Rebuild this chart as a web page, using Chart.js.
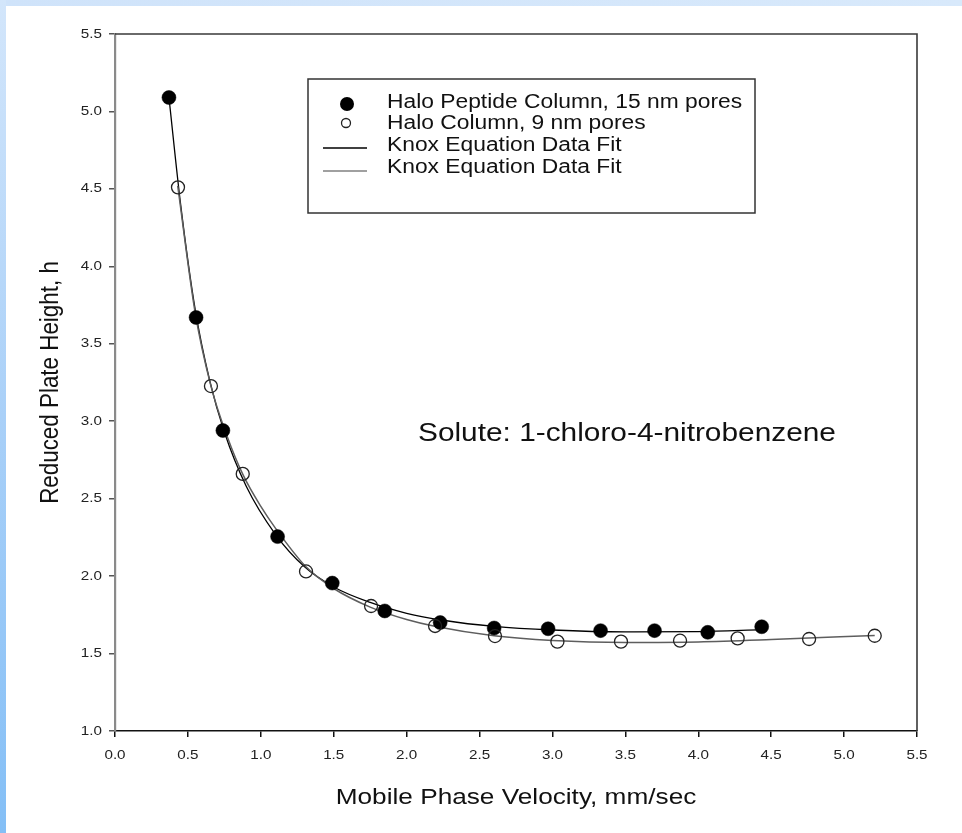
<!DOCTYPE html>
<html>
<head>
<meta charset="utf-8">
<script src="https://cdn.jsdelivr.net/npm/chart.js@4"></script>
<style>
  html, body { margin: 0; padding: 0; background: #ffffff; }
  #wrap { position: relative; width: 962px; height: 833px; overflow: hidden; background: #ffffff; }
  #stripTop { position: absolute; left: 0; top: 0; width: 962px; height: 6px; background: linear-gradient(to right, #cfe3fa, #d8e9fb); }
  #stripLeft { position: absolute; left: 0; top: 0; width: 6px; height: 833px; background: linear-gradient(to bottom, #d3e6fb, #a9d0f8 50%, #84bff6); }
  canvas { position: absolute; left: 0; top: 0; }
</style>
</head>
<body>
<div id="wrap">
  <div id="stripTop"></div>
  <div id="stripLeft"></div>
  <canvas id="c" width="962" height="833"></canvas>
</div>
<script>
// ---- Data ----
const velPeptide = [0.37, 0.556, 0.74, 1.115, 1.49, 1.85, 2.23, 2.60, 2.97, 3.33, 3.70, 4.065, 4.435];
const hPeptide   = [5.09, 3.67, 2.94, 2.255, 1.955, 1.775, 1.70, 1.665, 1.66, 1.648, 1.648, 1.637, 1.673];

const velHalo = [0.432, 0.658, 0.876, 1.31, 1.756, 2.195, 2.606, 3.034, 3.47, 3.875, 4.27, 4.76, 5.21];
const hHalo   = [4.51, 3.227, 2.66, 2.03, 1.807, 1.678, 1.613, 1.577, 1.577, 1.583, 1.598, 1.594, 1.615];

const fitPeptideV = [0.37, 0.45, 0.55, 0.65, 0.75, 0.9, 1.1, 1.3, 1.5, 1.75, 2.0, 2.25, 2.6, 3.0, 3.5, 4.0, 4.44];
const fitPeptideH = [5.09, 4.40, 3.72, 3.26, 2.93, 2.58, 2.27, 2.06, 1.93, 1.83, 1.76, 1.715, 1.675, 1.652, 1.640, 1.642, 1.655];

const fitHaloV = [0.43, 0.55, 0.66, 0.77, 0.88, 1.0, 1.1, 1.31, 1.5, 1.75, 2.0, 2.2, 2.6, 3.0, 3.5, 4.0, 4.5, 5.21];
const fitHaloH = [4.52, 3.70, 3.22, 2.90, 2.65, 2.45, 2.31, 2.06, 1.92, 1.80, 1.72, 1.675, 1.615, 1.585, 1.572, 1.575, 1.59, 1.617];

const xTickMin = 0.0, xTickMax = 5.5, xTickStep = 0.5;
const yTickMin = 1.0, yTickMax = 5.5, yTickStep = 0.5;

const legendLabels = [
  "Halo Peptide Column, 15 nm pores",
  "Halo Column, 9 nm pores",
  "Knox Equation Data Fit",
  "Knox Equation Data Fit"
];
const xTitle = "Mobile Phase Velocity, mm/sec";
const yTitle = "Reduced Plate Height, h";
const annotationText = "Solute: 1-chloro-4-nitrobenzene";

const FONT = '"Liberation Sans", Arial, Helvetica, sans-serif';
const TEXT_STRETCH = 1.17; // reference text is horizontally widened

function pts(xs, ys) { return xs.map((x, i) => ({ x: x, y: ys[i] })); }

// Widen all text horizontally (in screen space) around its anchor point.
const stretchTextPlugin = {
  id: 'stretchText',
  beforeInit(chart) {
    const ctx = chart.ctx;
    if (ctx.__stretched) return;
    const orig = ctx.fillText.bind(ctx);
    ctx.fillText = function (text, x, y, maxWidth) {
      const m = ctx.getTransform();
      const px = m.a * x + m.c * y + m.e;
      const sx = TEXT_STRETCH;
      ctx.save();
      ctx.setTransform(sx * m.a, m.b, sx * m.c, m.d, sx * m.e + (1 - sx) * px, m.f);
      if (maxWidth === undefined) orig(text, x, y); else orig(text, x, y, maxWidth);
      ctx.restore();
    };
    ctx.__stretched = true;
  }
};

const overlayPlugin = {
  id: 'overlay',
  afterDraw(chart) {
    const ctx = chart.ctx;
    const a = chart.chartArea;
    ctx.save();
    // top and right frame lines
    ctx.strokeStyle = '#3a3a3a';
    ctx.lineWidth = 1.6;
    ctx.beginPath();
    ctx.moveTo(a.left, a.top);
    ctx.lineTo(a.right, a.top);
    ctx.lineTo(a.right, a.bottom);
    ctx.stroke();

    // annotation
    ctx.fillStyle = '#111';
    ctx.font = '25.5px ' + FONT;
    ctx.textBaseline = 'middle';
    ctx.textAlign = 'left';
    ctx.fillText(annotationText, 418, 434);

    // legend box
    const bx = 308, by = 79, bw = 447, bh = 134;
    ctx.strokeStyle = '#333';
    ctx.lineWidth = 1.5;
    ctx.strokeRect(bx, by, bw, bh);
    ctx.font = '19.5px ' + FONT;
    const rows = [103, 124, 146, 168];
    ctx.fillStyle = '#000';
    ctx.beginPath(); ctx.arc(347, 104, 7, 0, Math.PI * 2); ctx.fill();
    ctx.strokeStyle = '#222'; ctx.lineWidth = 1.3;
    ctx.beginPath(); ctx.arc(346, 123, 4.5, 0, Math.PI * 2); ctx.stroke();
    ctx.strokeStyle = '#000'; ctx.lineWidth = 1.3;
    ctx.beginPath(); ctx.moveTo(323, 148); ctx.lineTo(367, 148); ctx.stroke();
    ctx.strokeStyle = '#808080'; ctx.lineWidth = 1.6;
    ctx.beginPath(); ctx.moveTo(323, 171); ctx.lineTo(367, 171); ctx.stroke();
    ctx.fillStyle = '#111';
    legendLabels.forEach((t, i) => ctx.fillText(t, 387, rows[i]));
    ctx.restore();
  }
};

new Chart(document.getElementById('c'), {
  type: 'scatter',
  data: {
    datasets: [
      {
        label: 'fitPeptide', data: pts(fitPeptideV, fitPeptideH), showLine: true,
        borderColor: '#000', borderWidth: 1.3, pointRadius: 0, fill: false,
        cubicInterpolationMode: 'monotone', order: 3
      },
      {
        label: 'fitHalo', data: pts(fitHaloV, fitHaloH), showLine: true,
        borderColor: '#5e5e5e', borderWidth: 1.5, pointRadius: 0, fill: false,
        cubicInterpolationMode: 'monotone', order: 2
      },
      {
        label: 'peptide', data: pts(velPeptide, hPeptide), showLine: false,
        pointRadius: 7, pointBackgroundColor: '#000', pointBorderColor: '#000', pointBorderWidth: 0.5, order: 1
      },
      {
        label: 'halo', data: pts(velHalo, hHalo), showLine: false,
        pointRadius: 6.5, pointBackgroundColor: 'rgba(0,0,0,0)', pointBorderColor: '#222', pointBorderWidth: 1.3, order: 0
      }
    ]
  },
  options: {
    responsive: false,
    animation: false,
    events: [],
    layout: { padding: { top: 34, right: 45, left: 0, bottom: 0 } },
    plugins: { legend: { display: false }, tooltip: { enabled: false } },
    scales: {
      x: {
        type: 'linear', min: xTickMin, max: xTickMax,
        ticks: {
          stepSize: xTickStep, color: '#222', padding: 11,
          font: { family: FONT, size: 13 },
          callback: v => Number(v).toFixed(1), maxRotation: 0, autoSkip: false
        },
        grid: { drawOnChartArea: false, drawTicks: true, tickLength: 6, color: '#111', lineWidth: 1.5 },
        border: { display: true, color: '#111', width: 1.6 },
        title: {
          display: true, text: xTitle, color: '#111',
          font: { family: FONT, size: 22.4, lineHeight: 1 },
          padding: { top: 0, bottom: 24 }
        },
        afterFit(scale) { scale.height = 102; }
      },
      y: {
        type: 'linear', min: yTickMin, max: yTickMax,
        ticks: {
          stepSize: yTickStep, color: '#222', padding: 7,
          font: { family: FONT, size: 13 },
          callback: v => Number(v).toFixed(1), autoSkip: false
        },
        grid: { drawOnChartArea: false, drawTicks: true, tickLength: 6, color: '#555', lineWidth: 1.5 },
        border: { display: true, color: '#8a8a8a', width: 2.2 },
        title: {
          display: true, text: yTitle, color: '#111',
          font: { family: FONT, size: 22.4, lineHeight: 1 },
          padding: { top: 40, bottom: 0 }
        },
        afterFit(scale) { scale.width = 115; }
      }
    }
  },
  plugins: [stretchTextPlugin, overlayPlugin]
});
</script>
</body>
</html>
